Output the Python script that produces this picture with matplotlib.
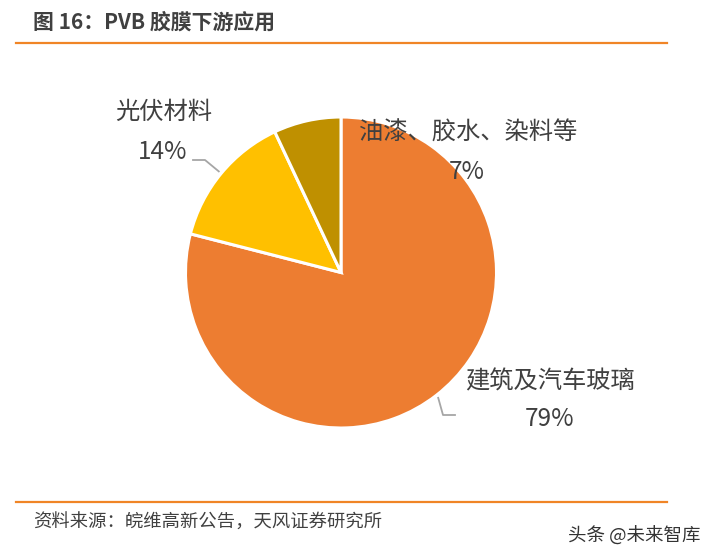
import matplotlib
matplotlib.use("Agg")
import numpy as np
from matplotlib import pyplot as plt

plt.rcParams['font.family'] = ['Noto Sans CJK SC', 'DejaVu Sans']

# data
categories = ['建筑及汽车玻璃', '光伏材料', '油漆、胶水、染料等']
shares = [79, 14, 7]
colors = ['#ED7D31', '#FFC000', '#BF9000']

W, H = 710, 559
cx, cy, R = 341, 272.5, 155.5
text_c = '#404040'
line_c = '#F08526'

fig = plt.figure(figsize=(W / 100, H / 100), dpi=100)

# page decoration in pixel coords
bg = fig.add_axes([0, 0, 1, 1])
bg.set_xlim(0, W)
bg.set_ylim(H, 0)
bg.axis('off')
bg.plot([16, 667], [43, 43], color=line_c, lw=1.6)
bg.plot([16, 667], [502, 502], color=line_c, lw=1.6)
bg.text(33, 22, '图 16：PVB 胶膜下游应用', fontsize=15, fontweight='bold',
        color=text_c, ha='left', va='center')
bg.text(33, 523, '资料来源：皖维高新公告，天风证券研究所', fontsize=13.2,
        color=text_c, ha='left', va='center')
bg.text(700, 536, '头条 @未来智库', fontsize=13.3, color='#333333',
        ha='right', va='center')

# pie axes, radius 1 == R pixels
ax = fig.add_axes([(cx - R) / W, (H - cy - R) / H, 2 * R / W, 2 * R / H])
wedges, _ = ax.pie(shares, colors=colors, startangle=90, counterclock=False,
                   radius=1, wedgeprops=dict(edgecolor='white', linewidth=2.2))
ax.set_xlim(-1, 1)
ax.set_ylim(-1, 1)
ax.set_aspect('equal')
ax.axis('off')

def px(x, y):
    return (x - cx) / R, (cy - y) / R

label_pos = {
    0: (px(550, 381), px(550, 419), [px(443, 415), px(455, 415)]),
    1: (px(164, 112), px(163, 152), [px(205, 160), px(193, 160)]),
    2: (px(468, 133), px(467, 172), None),
}

for i, w in enumerate(wedges):
    name_xy, pct_xy, leader = label_pos[i]
    ax.text(*name_xy, categories[i], fontsize=17.5, color=text_c,
            ha='center', va='center', clip_on=False)
    ax.text(*pct_xy, f'{shares[i]}%', fontsize=17.5, color=text_c,
            ha='center', va='center', clip_on=False)
    if leader:
        mid = np.deg2rad((w.theta1 + w.theta2) / 2)
        xs = [1.02 * np.cos(mid)] + [p[0] for p in leader]
        ys = [1.02 * np.sin(mid)] + [p[1] for p in leader]
        ax.plot(xs, ys, color='#A6A6A6', lw=1.3, clip_on=False)

fig.savefig('out.png', dpi=100)
